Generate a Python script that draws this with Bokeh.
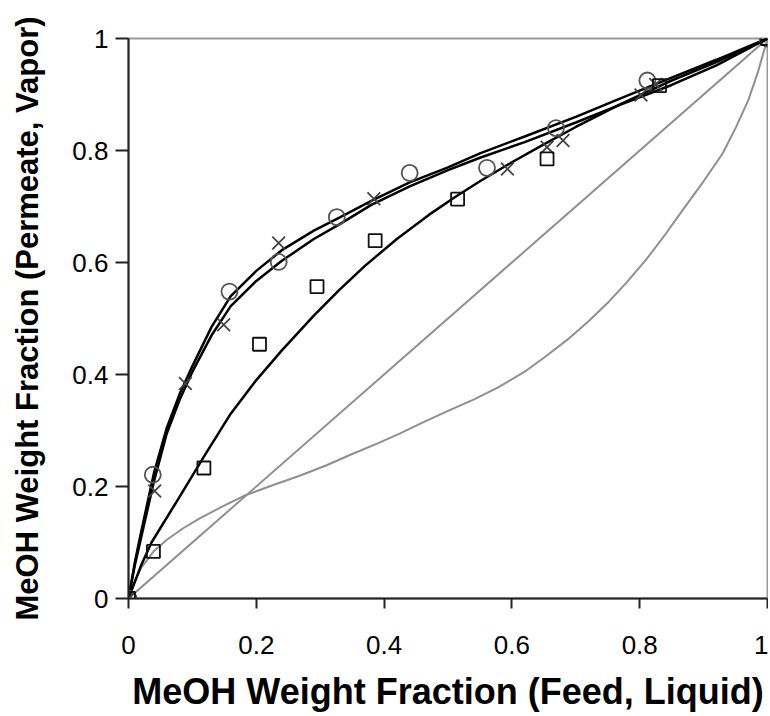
from bokeh.plotting import figure
from bokeh.models import FixedTicker, Range1d
from bokeh.embed import file_html
from bokeh.resources import INLINE

# Tick values / labels
tick_vals = [0, 0.2, 0.4, 0.6, 0.8, 1]
tick_labels = ["0", "0.2", "0.4", "0.6", "0.8", "1"]

# Measured points (circles)
circle_x = [0, 0.038, 0.158, 0.235, 0.326, 0.44, 0.561, 0.669, 0.812, 1.0]
circle_y = [0, 0.221, 0.548, 0.601, 0.681, 0.76, 0.769, 0.84, 0.925, 1.0]

# Measured points (crosses)
cross_x = [0, 0.041, 0.089, 0.149, 0.235, 0.384, 0.593, 0.655, 0.68, 0.802, 0.825]
cross_y = [0, 0.192, 0.384, 0.489, 0.635, 0.714, 0.767, 0.806, 0.818, 0.899, 0.918]

# Measured points (squares)
square_x = [0, 0.039, 0.118, 0.205, 0.295, 0.386, 0.515, 0.655, 0.831, 1.0]
square_y = [0, 0.084, 0.233, 0.454, 0.557, 0.639, 0.713, 0.785, 0.916, 1.0]

# Model curves (black)
fit_x = [0, 0.01, 0.02, 0.04, 0.06, 0.08, 0.1, 0.13, 0.16, 0.2, 0.24, 0.29, 0.33, 0.38,
         0.44, 0.5, 0.55, 0.62, 0.7, 0.77, 0.85, 0.92, 1.0]
fit_a = [0, 0.065, 0.12, 0.225, 0.305, 0.365, 0.415, 0.485, 0.54, 0.585, 0.622, 0.657, 0.68, 0.71,
         0.743, 0.77, 0.795, 0.825, 0.86, 0.893, 0.93, 0.962, 1.0]
fit_b = [0, 0.06, 0.11, 0.21, 0.295, 0.355, 0.405, 0.47, 0.522, 0.567, 0.603, 0.642, 0.668, 0.703,
         0.736, 0.765, 0.787, 0.815, 0.85, 0.882, 0.917, 0.952, 1.0]

fit_c_x = [0, 0.02, 0.036, 0.078, 0.119, 0.16, 0.2, 0.24, 0.29, 0.33, 0.37, 0.42, 0.47,
           0.51, 0.55, 0.6, 0.65, 0.7, 0.77, 0.85, 0.92, 1.0]
fit_c_y = [0, 0.06, 0.10, 0.178, 0.255, 0.33, 0.39, 0.443, 0.505, 0.551, 0.594, 0.642, 0.685,
           0.716, 0.745, 0.779, 0.811, 0.842, 0.883, 0.925, 0.958, 1.0]

# Vapor-liquid equilibrium curve (gray)
vle_x = [0, 0.01, 0.02, 0.04, 0.06, 0.085, 0.11, 0.145, 0.18, 0.22, 0.27, 0.31, 0.35,
         0.39, 0.425, 0.46, 0.5, 0.54, 0.58, 0.62, 0.65, 0.69, 0.72, 0.75, 0.78, 0.81,
         0.84, 0.87, 0.9, 0.93, 0.95, 0.97, 0.985, 1.0]
vle_y = [0, 0.03, 0.055, 0.085, 0.105, 0.125, 0.142, 0.163, 0.183, 0.2, 0.22, 0.238, 0.258,
         0.277, 0.295, 0.314, 0.335, 0.355, 0.378, 0.405, 0.43, 0.465, 0.495, 0.528, 0.565,
         0.605, 0.65, 0.698, 0.745, 0.795, 0.84, 0.89, 0.94, 1.0]

# Diagonal y = x
diag_x = [0, 1]
diag_y = [0, 1]

FONT = "Liberation Sans"

p = figure(width=768, height=714, output_backend="svg", toolbar_location=None,
           x_range=Range1d(0, 1), y_range=Range1d(0, 1),
           min_border_left=128, min_border_right=1, min_border_top=38, min_border_bottom=114)
p.background_fill_color = "white"
p.border_fill_color = "white"
p.outline_line_color = "#999999"
p.outline_line_width = 2
p.xgrid.visible = False
p.ygrid.visible = False

gray = "#8f8f8f"
p.line(diag_x, diag_y, line_color=gray, line_width=2)
p.line(vle_x, vle_y, line_color=gray, line_width=2)

p.line(fit_x, fit_a, line_color="black", line_width=2.5)
p.line(fit_x, fit_b, line_color="black", line_width=2.5)
p.line(fit_c_x, fit_c_y, line_color="black", line_width=2.5)

p.scatter(circle_x, circle_y, marker="circle", size=16, fill_color=None,
          line_color="#555555", line_width=1.8)
p.scatter(cross_x, cross_y, marker="x", size=18, line_color="#444444", line_width=1.8)
p.scatter(square_x, square_y, marker="square", size=13, fill_color=None,
          line_color="#111111", line_width=1.8)

for ax in (p.xaxis, p.yaxis):
    ax.ticker = FixedTicker(ticks=tick_vals)
    ax.major_label_overrides = dict(zip(tick_vals, tick_labels))
    ax.minor_tick_line_color = None
    ax.axis_line_color = "#222222"
    ax.axis_line_width = 2
    ax.major_tick_line_color = "#222222"
    ax.major_tick_line_width = 2
    ax.major_tick_in = 0
    ax.major_label_text_font = FONT
    ax.major_label_text_font_size = "26px"
    ax.major_label_text_color = "black"
    ax.axis_label_text_font = FONT
    ax.axis_label_text_font_style = "bold"
    ax.axis_label_text_color = "black"

p.xaxis.major_tick_out = 10
p.yaxis.major_tick_out = 13
p.xaxis.major_label_standoff = 27
p.yaxis.major_label_standoff = 7
p.xaxis.axis_label = "MeOH Weight Fraction (Feed, Liquid)"
p.yaxis.axis_label = "MeOH Weight Fraction (Permeate, Vapor)"
p.xaxis.axis_label_text_font_size = "36px"
p.yaxis.axis_label_text_font_size = "31px"
p.xaxis.axis_label_standoff = 14
p.yaxis.axis_label_standoff = 24

open("out.html", "w").write(file_html(p, INLINE))
